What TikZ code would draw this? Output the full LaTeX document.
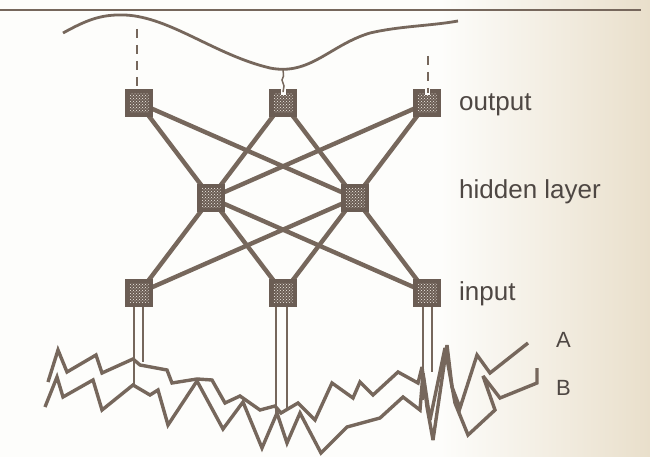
\documentclass[tikz,border=0pt]{standalone}
\usepackage{fontspec}
\setmainfont{Liberation Sans}
\usetikzlibrary{patterns}
\pgfdeclarelayer{background}
\pgfdeclarelayer{paper}
\pgfsetlayers{paper,background,main}

\definecolor{ink}{HTML}{76675C}
\definecolor{boxink}{HTML}{6B5D54}
\definecolor{dotink}{HTML}{F4F0EA}
\definecolor{txt}{HTML}{4E4743}
\definecolor{paperL}{HTML}{FDFDFB}
\definecolor{paperR}{HTML}{E9DFCB}

\tikzset{
  unit/.style={draw=none, fill=boxink, minimum width=28pt, minimum height=28pt,
    inner sep=0pt,
    path picture={\fill[pattern=crosshatch dots, pattern color=dotink]
      ([shift={(4.5pt,4.5pt)}]path picture bounding box.south west) rectangle
      ([shift={(-4.5pt,-4.5pt)}]path picture bounding box.north east);}},
  link/.style={draw=ink, line width=4.4pt},
  leg/.style={draw=ink, line width=2.8pt},
  wave/.style={draw=ink, line width=3.4pt, line join=miter, miter limit=4},
  probe/.style={draw=ink, line width=2.8pt, dash pattern=on 9pt off 7pt},
  lbl/.style={text=txt, font=\fontsize{26}{30}\selectfont, anchor=base west, inner sep=0pt},
}

\begin{document}
\begin{tikzpicture}[x=1pt, y=-1pt]
\useasboundingbox (0,0) rectangle (650,457);
\begin{pgfonlayer}{paper}
  \fill[paperL] (0,0) rectangle (650,457);
  \shade[left color=paperL, right color=paperR] (440,0) rectangle (650,457);
\end{pgfonlayer}

% ruled line at the top
\coordinate (rl) at (0,10);
\coordinate (rr) at (641,10);
\draw[ink, line width=2.2pt] (rl) -- (rr);

% target signal
\draw[ink, line width=2.8pt]
  (63,33) .. controls (85,21) and (100,14) .. (125,15)
  .. controls (170,17) and (215,55) .. (270,68)
  .. controls (310,76) and (330,45) .. (370,33)
  .. controls (400,26) and (430,26) .. (458,21);

% units
\node[unit] (o1) at (139,103) {};
\node[unit] (o2) at (283,103) {};
\node[unit] (o3) at (427,103) {};
\node[unit] (h1) at (211,198) {};
\node[unit] (h2) at (355,198) {};
\node[unit] (i1) at (139,293) {};
\node[unit] (i2) at (283,293) {};
\node[unit] (i3) at (427,293) {};

% weights
\begin{pgfonlayer}{background}
  \foreach \o in {o1,o2,o3}
    \foreach \h in {h1,h2}
      \draw[link] (\o.center) -- (\h.center);
  \foreach \h in {h1,h2}
    \foreach \i in {i1,i2,i3}
      \draw[link] (\h.center) -- (\i.center);
\end{pgfonlayer}

% notches in the tops of the probed output units
\fill[paperL] ([xshift=-2.5pt]o2.north) rectangle ([xshift=2.5pt,yshift=-6pt]o2.north);
\fill[paperL] ([xshift=-2.5pt]o3.north) rectangle ([xshift=2.5pt,yshift=-6pt]o3.north);

% probes from the outputs towards the signal
\coordinate (p1) at (137,29);
\coordinate (p3) at (428,56);
\coordinate (p2) at (283,69);
\draw[probe] (p1) -- ([xshift=-2pt]o1.north);
\draw[probe] (p3) -- ([xshift=1pt,yshift=-4pt]o3.north);
\draw[ink, line width=1.5pt] (p2) -- (283.5,76) -- (282,80) -- (284,86) -- (283,92) -- ([yshift=-3pt]o2.north);

% input legs down to the traces
\coordinate (a1) at (134,385);
\coordinate (b1) at (143,362);
\coordinate (a2) at (276,413);
\coordinate (b2) at (287,410);
\coordinate (a3) at (423,400);
\coordinate (b3) at (432,372);
\draw[leg] ([xshift=-5pt]i1.south) -- (a1);
\draw[leg] ([xshift=4pt]i1.south) -- (b1);
\draw[leg] ([xshift=-7pt]i2.south) -- (a2);
\draw[leg] ([xshift=4pt]i2.south) -- (b2);
\draw[leg] ([xshift=-4pt]i3.south) -- (a3);
\draw[leg] ([xshift=5pt]i3.south) -- (b3);

% input trace A
\draw[wave] (48,382) -- (58,350) -- (67,372) -- (96,355) -- (102,373) -- (133,359)
  -- (140,365) -- (167,370) -- (172,383) -- (197,379) -- (212,380) -- (225,403)
  -- (240,396) -- (260,410) -- (275,406) -- (281,413) -- (298,403) -- (315,420)
  -- (332,383) -- (353,398) -- (360,382) -- (373,395) -- (398,372) -- (418,383)
  -- (422,367) -- (427,407) -- (433,440) -- (447,345) -- (452,387) -- (460,408)
  -- (477,355) -- (490,373) -- (528,343);

% input trace B
\draw[wave] (45,407) -- (57,377) -- (63,397) -- (93,380) -- (102,410) -- (133,385)
  -- (150,395) -- (158,390) -- (168,425) -- (197,381) -- (223,429) -- (243,402)
  -- (262,448) -- (277,413) -- (287,443) -- (300,413) -- (321,453) -- (347,427)
  -- (380,418) -- (403,397) -- (420,410) -- (423,373) -- (430,420) -- (445,348)
  -- (455,403) -- (468,435) -- (495,410) -- (483,376) -- (500,398) -- (537,383)
  -- (537,368);

% labels
\node[lbl] (lo) at (459,111) {output};
\node[lbl] (lh) at (459,199) {hidden layer};
\node[lbl] (li) at (459,300) {input};
\node[lbl, font=\fontsize{22}{26}\selectfont] (la) at (556,347) {A};
\node[lbl, font=\fontsize{22}{26}\selectfont] (lb) at (556,395) {B};
\end{tikzpicture}
\end{document}
